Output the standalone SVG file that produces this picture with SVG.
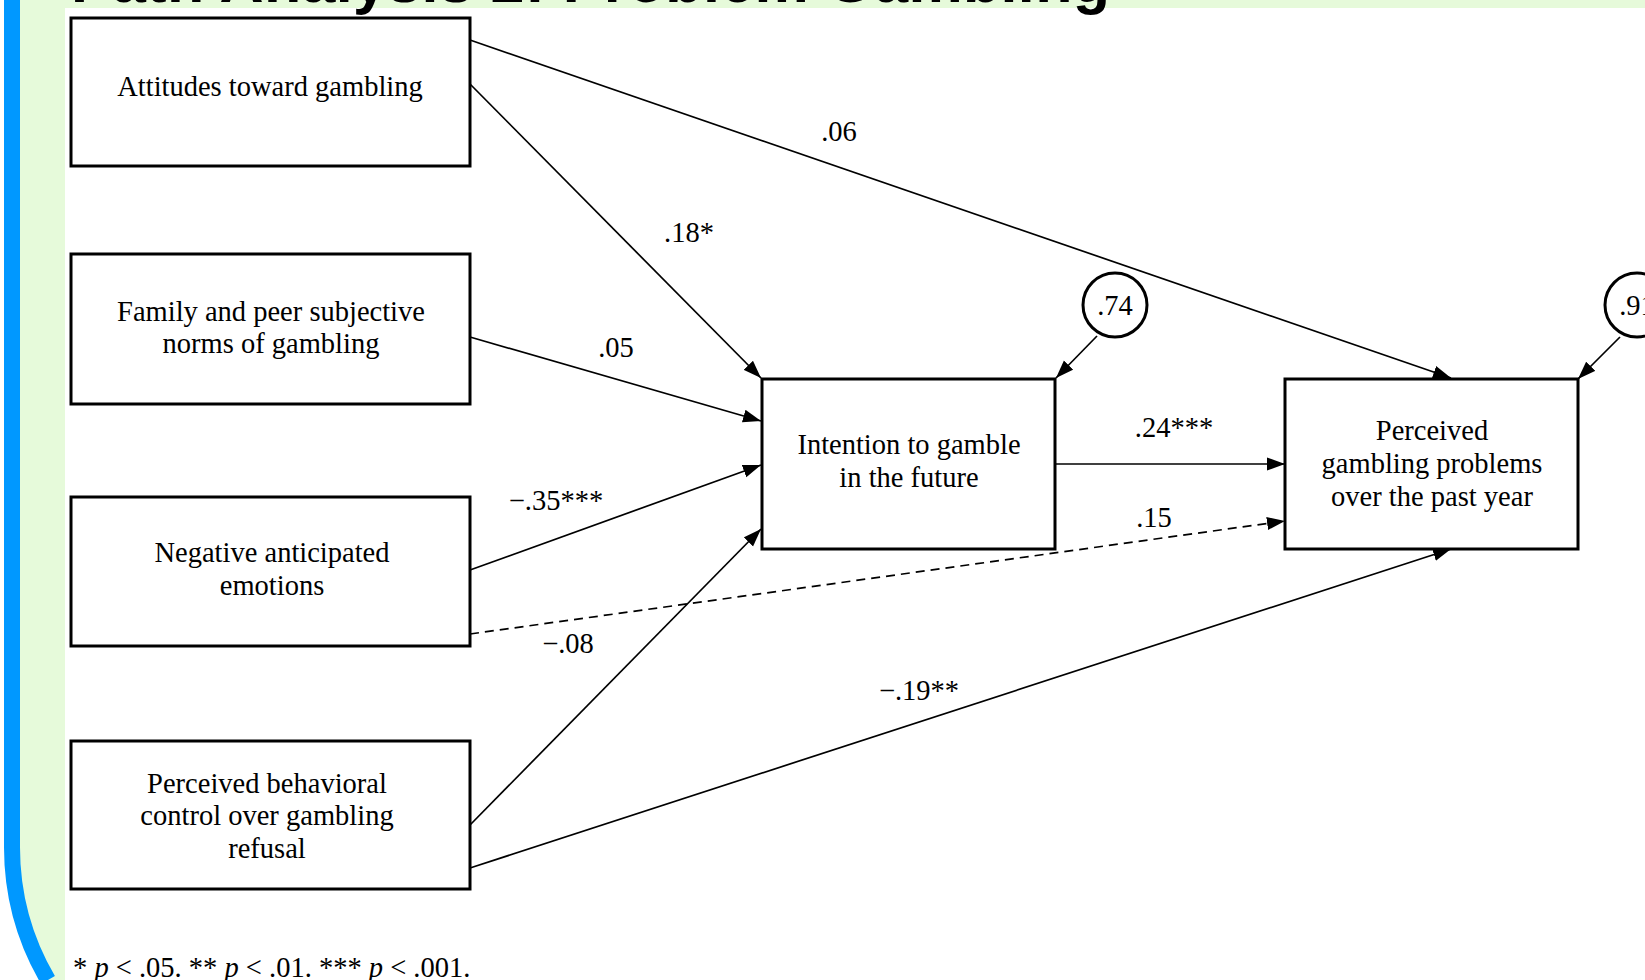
<svg xmlns="http://www.w3.org/2000/svg" width="1645" height="980" viewBox="0 0 1645 980">
<defs>
<marker id="ah" markerUnits="userSpaceOnUse" markerWidth="20" markerHeight="14" refX="18" refY="7" orient="auto">
<path d="M0,0.5 L18,7 L0,13.5 Z" fill="#000"/>
</marker>
<style>
.box{fill:#fff;stroke:#000;stroke-width:3}
.circ{fill:#fff;stroke:#000;stroke-width:3}
.t{font-family:"Liberation Serif","Times New Roman",serif;font-size:28.5px;fill:#000;text-anchor:middle}
.lbl{font-family:"Liberation Serif","Times New Roman",serif;font-size:28.5px;fill:#000;text-anchor:middle}
.c{fill:none;stroke:#000;stroke-width:1.7;marker-end:url(#ah)}
.d{stroke-dasharray:9 6}
</style>
</defs>
<rect width="1645" height="980" fill="#fff"/>
<path d="M12,0 H1645 V980 H48 A263,263 0 0 1 12,847 Z" fill="#E6FADA"/>
<rect x="65" y="8" width="1580" height="972" fill="#fff"/>
<path d="M12,0 V847 A263,263 0 0 0 48,980" fill="none" stroke="#0098FF" stroke-width="16"/>
<text x="71" y="2" font-family="Liberation Sans, Arial, sans-serif" font-weight="bold" font-size="61" fill="#000" textLength="1039">Path Analysis 2: Problem Gambling</text>

<g id="connectors">
<line class="c" x1="470" y1="40" x2="1451" y2="378"/>
<line class="c" x1="470" y1="84" x2="761" y2="378"/>
<line class="c" x1="470" y1="337" x2="761" y2="421"/>
<line class="c" x1="470" y1="570" x2="761" y2="465"/>
<line class="c d" x1="470" y1="634" x2="1285" y2="521"/>
<line class="c" x1="470" y1="825" x2="761" y2="529"/>
<line class="c" x1="470" y1="868" x2="1451" y2="549"/>
<line class="c" x1="1055" y1="464" x2="1285" y2="464"/>
<line class="c" x1="1097" y1="336" x2="1056" y2="378"/>
<line class="c" x1="1620" y1="337" x2="1578" y2="379"/>
<text class="lbl" x="839" y="141">.06</text>
<text class="lbl" x="689" y="242">.18*</text>
<text class="lbl" x="616" y="357">.05</text>
<text class="lbl" x="556" y="510">−.35***</text>
<text class="lbl" x="568" y="653">−.08</text>
<text class="lbl" x="919" y="700">−.19**</text>
<text class="lbl" x="1174" y="437">.24***</text>
<text class="lbl" x="1154" y="527">.15</text>
</g>

<g id="n-attitudes">
<rect class="box" x="71" y="18" width="399" height="148"/>
<text class="t" x="270" y="96">Attitudes toward gambling</text>
</g>
<g id="n-norms">
<rect class="box" x="71" y="254" width="399" height="150"/>
<text class="t" x="271" y="321">Family and peer subjective</text>
<text class="t" x="271" y="353">norms of gambling</text>
</g>
<g id="n-emotions">
<rect class="box" x="71" y="497" width="399" height="149"/>
<text class="t" x="272" y="562">Negative anticipated</text>
<text class="t" x="272" y="595">emotions</text>
</g>
<g id="n-control">
<rect class="box" x="71" y="741" width="399" height="148"/>
<text class="t" x="267" y="793">Perceived behavioral</text>
<text class="t" x="267" y="825">control over gambling</text>
<text class="t" x="267" y="858">refusal</text>
</g>
<g id="n-intention">
<rect class="box" x="762" y="379" width="293" height="170"/>
<text class="t" x="909" y="454">Intention to gamble</text>
<text class="t" x="909" y="487">in the future</text>
</g>
<g id="n-problems">
<rect class="box" x="1285" y="379" width="293" height="170"/>
<text class="t" x="1432" y="440">Perceived</text>
<text class="t" x="1432" y="473">gambling problems</text>
<text class="t" x="1432" y="506">over the past year</text>
</g>
<g id="e-intention">
<circle class="circ" cx="1115" cy="305" r="32"/>
<text class="t" x="1115" y="315">.74</text>
</g>
<g id="e-problems">
<circle class="circ" cx="1637" cy="305" r="32"/>
<text class="t" x="1637" y="315">.91</text>
</g>
<text x="73" y="977" font-family="Liberation Serif, Times New Roman, serif" font-size="28.5" fill="#000">* <tspan font-style="italic">p</tspan> &lt; .05. ** <tspan font-style="italic">p</tspan> &lt; .01. *** <tspan font-style="italic">p</tspan> &lt; .001.</text>
</svg>
